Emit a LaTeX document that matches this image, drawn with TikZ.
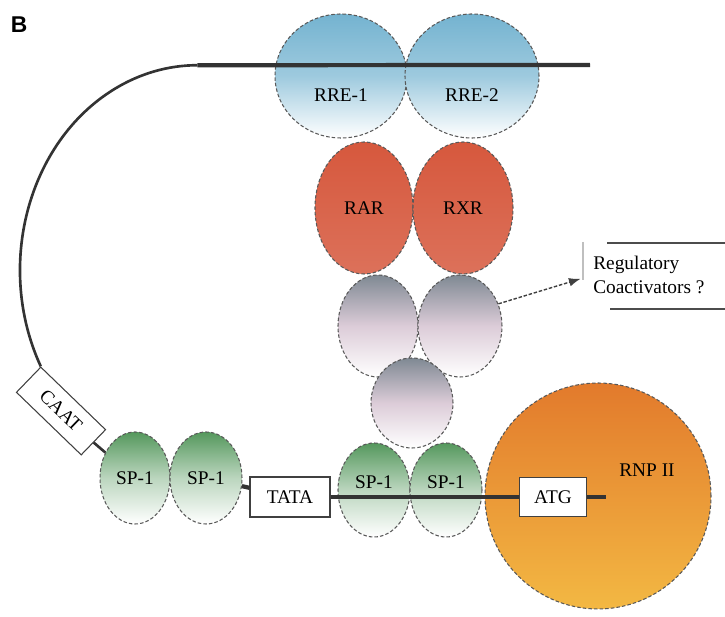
\documentclass[tikz,border=0pt]{standalone}
\usepackage{fontspec}
\setmainfont{Liberation Serif}
\newfontfamily\headfont{Liberation Sans}
\usetikzlibrary{shapes.geometric,arrows.meta}
\definecolor{rreblue}{HTML}{74B3D0}
\definecolor{rarred}{HTML}{D6583D}
\definecolor{coagray}{HTML}{7F8993}
\definecolor{coapink}{HTML}{DCCCD8}
\definecolor{spgreen}{HTML}{55985D}
\definecolor{rnptop}{HTML}{E27A2C}
\definecolor{rnpbot}{HTML}{F3B843}
\tikzset{
	dims/.style 2 args={minimum width=#1*0.02cm, minimum height=#2*0.02cm},
	prot/.style={ellipse, inner sep=0pt, draw=black!65, line width=0.6pt, dash pattern=on 2pt off 1.2pt},
	rre/.style={prot, top color=rreblue, bottom color=white, middle color=rreblue!70!white},
	rar/.style={prot, top color=rarred, bottom color=rarred!85!white},
	coa/.style={prot, top color=coagray, bottom color=white, middle color=coapink},
	sp/.style={prot, top color=spgreen, bottom color=white, middle color=spgreen!40!white},
	site/.style={draw=black!75, fill=white, line width=0.6pt, inner sep=1pt},
	dna/.style={line width=2.4pt, black!80},
	loop/.style={line width=1.5pt, black!80},
	rule/.style={line width=1.5pt, black!70},
	coact/.style={line width=0.8pt, black!75, dash pattern=on 2pt off 1pt}
}
\begin{document}
	\begin{tikzpicture}[x=0.02cm, y=-0.02cm, >=Latex, font=\fontsize{11}{14}\selectfont]
		\useasboundingbox (0,0) rectangle (725,617);
		\node (Bl) at (19,25) [font=\headfont\bfseries\fontsize{13}{15}\selectfont] {B};
		% receptor pairs
		\node (Rr1) at (341,76) [rre, dims={132}{124}, label={[yshift=-0.38cm]center:RRE-1}] {};
		\node (Rr2) at (472,76) [rre, dims={134}{124}, label={[yshift=-0.38cm]center:RRE-2}] {};
		\node (Ra) at (364,208) [rar, dims={98}{132}] {RAR};
		\node (Rx) at (463,208) [rar, dims={100}{132}] {RXR};
		\node (Ga) at (378,326) [coa, dims={80}{102}] {};
		\node (Gb) at (460,326) [coa, dims={84}{102}] {};
		\node (Gc) at (412,403) [coa, dims={82}{90}] {};
		% promoter
		\node (Sa) at (135,478) [sp, dims={70}{92}] {SP-1};
		\node (Sb) at (206,478) [sp, dims={72}{92}] {SP-1};
		\node (Sc) at (374,490) [sp, dims={72}{94}, label={[yshift=0.16cm]center:SP-1}] {};
		\node (Sd) at (446,490) [sp, dims={72}{94}, label={[yshift=0.16cm]center:SP-1}] {};
		\node (Rn) at (598,496) [circle, draw=black!65, line width=0.6pt, dash pattern=on 2pt off 1.2pt,
			top color=rnptop, bottom color=rnpbot, dims={226}{226},
			label={[xshift=0.98cm, yshift=0.52cm]center:RNP II}] {};
		\node (Ca) at (61,411) [site, rotate=-44, dims={90}{35}] {CAAT};
		\node (Ta) at (290,497) [site, dims={80}{40}] {TATA};
		\node (At) at (553,497) [site, dims={67}{39}] {ATG};
		\coordinate (Te) at (590,65);
		\coordinate (Ae) at (606,497);
		% DNA
		\draw[loop] (Ca.north west) arc[start angle=208, end angle=90, x radius=3.55cm, y radius=4.1cm] coordinate (Lt);
		\draw[dna] (Lt) -- (Te);
		\draw[loop] (Ca.east) -- (Sa);
		\draw[dna] (Sb) -- (Ta);
		\draw[dna] (Ta.east) -- (At.west);
		\draw[dna] (At.east) -- (Ae);
		% coactivators
		\node (Re) at (593,275) [anchor=west, align=left, inner sep=0pt] {Regulatory\\Coactivators ?};
		\draw[rule] (607,243) -- (725,243);
		\draw[rule] (610,309) -- (725,309);
		\draw[black!25, line width=0.6pt] (583,242) -- (583,280);
		\draw[coact, ->, shorten >=0.26cm] (Gb.30) -- (Re.west);
	\end{tikzpicture}
\end{document}
